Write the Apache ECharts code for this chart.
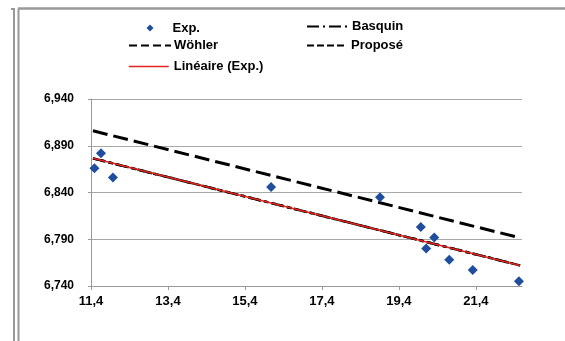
<!DOCTYPE html>
<html>
<head>
<meta charset="utf-8">
<script src="https://cdn.jsdelivr.net/npm/echarts@6/dist/echarts.min.js"></script>
<style>
html,body{margin:0;padding:0;background:#fff;}
#c{width:565px;height:341px;}
</style>
</head>
<body>
<div id="c"></div>
<script>
// ---- data ----
var expX = [11.49, 11.66, 11.97, 16.08, 18.91, 19.97, 20.11, 20.32, 20.71, 21.32, 22.52];
var expY = [6.866, 6.882, 6.856, 6.846, 6.835, 6.803, 6.780, 6.792, 6.768, 6.757, 6.745];
var wohlerX = [11.45, 22.55];
var wohlerY = [6.906, 6.7915];
var basquinX = [11.45, 22.55];
var basquinY = [6.8765, 6.762];
var proposeX = [11.45, 22.55];
var proposeY = [6.8765, 6.762];
var lineaireX = [11.45, 22.55];
var lineaireY = [6.8767, 6.762];
var xTicks = [11.4, 13.4, 15.4, 17.4, 19.4, 21.4];
var yTicks = [6.740, 6.790, 6.840, 6.890, 6.940];
var names = ['Exp.', 'Basquin', 'Wöhler', 'Proposé', 'Linéaire (Exp.)'];

// axis origin offsets (so ticks start at min)
var X0 = xTicks[0], Y0 = yTicks[0];
var XMAX = 22.6;
function pts(xs, ys) { return xs.map(function (x, i) { return [x - X0, ys[i] - Y0]; }); }

var FONT = "'Liberation Sans', Arial, sans-serif";
var chart = echarts.init(document.getElementById('c'), null, {renderer: 'canvas'});

var HIDE = {color: 'rgba(0,0,0,0)', borderColor: 'rgba(0,0,0,0)', borderWidth: 0};
function lg(name, left, top, w, h, pad, extra) {
  var o = {
    data: [name], left: left, top: top, itemWidth: w, itemHeight: h, padding: 0,
    selectedMode: false, itemGap: 0,
    textStyle: {fontFamily: FONT, fontSize: 13, fontWeight: 'bold', color: '#000', padding: pad}
  };
  for (var k in extra) o[k] = extra[k];
  return o;
}

var option = {
  animation: false,
  backgroundColor: '#fff',
  graphic: [
    {type: 'line', shape: {x1: 14, y1: 9, x2: 14, y2: 341}, style: {stroke: '#999', lineWidth: 2}},
    {type: 'line', shape: {x1: 11, y1: 9, x2: 15, y2: 9}, style: {stroke: '#999', lineWidth: 2}},
    {type: 'line', shape: {x1: 18.5, y1: 8.5, x2: 18.5, y2: 341}, style: {stroke: '#999', lineWidth: 2}},
    {type: 'line', shape: {x1: 18, y1: 8.5, x2: 565, y2: 8.5}, style: {stroke: '#999', lineWidth: 2.5}}
  ],
  legend: [
    lg(names[0], 146.5, 21.5, 7, 7, [0, 0, 0, 14], {}),
    lg(names[2], 128, 39, 42, 14, [4, 0, 0, -2], {lineStyle: {type: [8, 4], width: 2}, itemStyle: HIDE}),
    lg(names[4], 128, 60, 40, 14, [4, 0, 0, 0], {lineStyle: {width: 1.5}, itemStyle: HIDE}),
    lg(names[1], 306, 20, 42, 14, [4, 0, 0, -2], {lineStyle: {type: [12, 4, 2, 4], width: 2}, itemStyle: HIDE}),
    lg(names[3], 306, 39, 37, 14, [4, 0, 0, 2], {lineStyle: {type: [7, 3], width: 2}, itemStyle: HIDE})
  ],
  grid: {left: 91, right: 43, top: 99, bottom: 55, containLabel: false},
  xAxis: {
    type: 'value', min: 0, max: XMAX - X0, interval: 2,
    axisLine: {show: true, lineStyle: {color: '#9a9a9a', width: 1}},
    axisTick: {show: true, length: 4, inside: false, lineStyle: {color: '#9a9a9a'}},
    splitLine: {show: false},
    axisLabel: {
      margin: 9, showMaxLabel: false, fontFamily: FONT, fontSize: 13, fontWeight: 'bold', color: '#000',
      formatter: function (v) { return (v + X0).toFixed(1).replace('.', ','); }
    }
  },
  yAxis: {
    type: 'value', min: 0, max: yTicks[yTicks.length - 1] - Y0, interval: 0.05,
    axisLine: {show: true, lineStyle: {color: '#9a9a9a', width: 1}},
    axisTick: {show: true, length: 3, lineStyle: {color: '#9a9a9a'}},
    splitLine: {show: true, lineStyle: {color: '#a8a8a8', width: 1}},
    axisLabel: {
      margin: 17, fontFamily: FONT, fontSize: 12, fontWeight: 'bold', color: '#000',
      formatter: function (v) { return (v + Y0).toFixed(3).replace('.', ','); }
    }
  },
  series: [
    {name: names[2], type: 'line', data: pts(wohlerX, wohlerY), symbol: 'none',
     lineStyle: {color: '#000', width: 3, type: [15, 6]}, itemStyle: {color: '#000'}, z: 2},
    {name: names[1], type: 'line', data: pts(basquinX, basquinY), symbol: 'none',
     lineStyle: {color: '#000', width: 2.5, type: [12, 4, 3, 4]}, itemStyle: {color: '#000'}, z: 2},
    {name: names[3], type: 'line', data: pts(proposeX, proposeY), symbol: 'none',
     lineStyle: {color: '#000', width: 2.5, type: [5, 3]}, itemStyle: {color: '#000'}, z: 2},
    {name: names[4], type: 'line', data: pts(lineaireX, lineaireY), symbol: 'none',
     lineStyle: {color: '#e3241f', width: 1.5}, itemStyle: {color: '#e3241f'}, z: 3},
    {name: names[0], type: 'scatter', data: pts(expX, expY), symbol: 'diamond', symbolSize: 10,
     itemStyle: {color: '#1f4e9f', opacity: 1}, z: 4}
  ]
};
chart.setOption(option);
</script>
</body>
</html>
